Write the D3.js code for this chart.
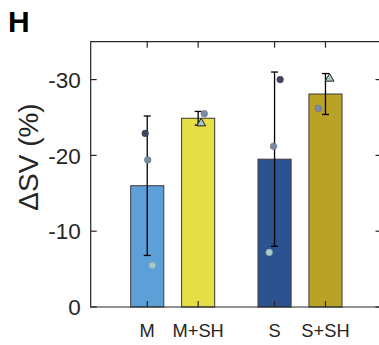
<!DOCTYPE html>
<html>
<head>
<meta charset="utf-8">
<script src="https://cdn.jsdelivr.net/npm/d3@7"></script>
<style>
  html, body { margin: 0; padding: 0; background: #fff; }
  svg { display: block; }
  text { font-family: "Liberation Sans", Arial, Helvetica, sans-serif; fill: #262626; }
</style>
</head>
<body>
<svg id="chart" width="379" height="345"></svg>
<script>
// ---- data ----
const categories = ["M", "M+SH", "S", "S+SH"];
const catPositions = [1, 2, 3.5, 4.5];
const meanValues = [-16.0, -24.9, -19.5, -28.1];
const sdValues = [9.2, 0.9, 11.5, 2.7];
const barColors = ["#5d9fd7", "#e6de45", "#2d5291", "#b9a225"];
const yTickValues = [0, -10, -20, -30];
const yTickLabels = ["0", "-10", "-20", "-30"];

// individual subject points
const pointCategory = ["M", "M", "M", "M+SH", "M+SH", "S", "S", "S", "S+SH", "S+SH"];
const pointJitter = [-0.04, 0.01, 0.10, 0.12, 0.06, 0.11, -0.02, -0.105, 0.08, -0.14];
const pointValues = [-22.9, -19.4, -5.5, -25.5, -24.3, -30.0, -21.2, -7.2, -30.2, -26.2];
const pointShape = ["circle", "circle", "circle", "circle", "triangle", "circle", "circle", "circle", "triangle", "circle"];
const pointGroup = ["dark", "mid", "light", "mid", "light", "dark", "mid", "light", "light", "mid"];
const groupColors = { dark: "#41465f", mid: "#7c8ba3", light: "#a9c9cb" };

// ---- layout ----
const svg = d3.select("#chart");
const mLeft = 90.7, mRight = 381.5, mTop = 41.7, mBottom = 307;

const x = d3.scaleLinear().domain([-0.11, 5.6]).range([mLeft, mRight]);
const y = d3.scaleLinear().domain([0, -35]).range([mBottom, mTop]);
const posOf = c => catPositions[categories.indexOf(c)];
const barW = 0.65;
const axisColor = "#262626";

// bars
svg.append("g").selectAll("rect")
  .data(categories)
  .join("rect")
  .attr("x", (d, i) => x(catPositions[i] - barW / 2))
  .attr("width", (d, i) => x(catPositions[i] + barW / 2) - x(catPositions[i] - barW / 2))
  .attr("y", (d, i) => y(meanValues[i]))
  .attr("height", (d, i) => y(0) - y(meanValues[i]))
  .attr("fill", (d, i) => barColors[i])
  .attr("stroke", "#3a3a3a")
  .attr("stroke-width", 1);

// error bars
const eb = svg.append("g").attr("stroke", "#000").attr("stroke-width", 1.3);
categories.forEach((c, i) => {
  const cx = x(catPositions[i]);
  const lo = y(meanValues[i] + sdValues[i]);
  const hi = y(meanValues[i] - sdValues[i]);
  eb.append("line").attr("x1", cx).attr("x2", cx).attr("y1", lo).attr("y2", hi);
  eb.append("line").attr("x1", cx - 3.5).attr("x2", cx + 3.5).attr("y1", lo).attr("y2", lo);
  eb.append("line").attr("x1", cx - 3.5).attr("x2", cx + 3.5).attr("y1", hi).attr("y2", hi);
});

// points
const pts = svg.append("g");
pointValues.forEach((v, i) => {
  const px = x(posOf(pointCategory[i]) + pointJitter[i]);
  const py = y(v);
  if (pointShape[i] === "circle") {
    pts.append("circle").attr("cx", px).attr("cy", py).attr("r", 3.3)
      .attr("fill", groupColors[pointGroup[i]])
      .attr("stroke", d3.color(groupColors[pointGroup[i]]).darker(0.6)).attr("stroke-width", 0.6);
  } else {
    const sym = d3.symbol().type(d3.symbolTriangle).size(34);
    pts.append("path").attr("d", sym()).attr("transform", `translate(${px},${py + 0.5})`)
      .attr("fill", groupColors[pointGroup[i]])
      .attr("stroke", "#222").attr("stroke-width", 1);
  }
});

// axes box
const ax = svg.append("g").attr("stroke", axisColor).attr("stroke-width", 1.2).attr("fill", "none");
ax.append("path").attr("d", `M${mLeft},${mTop} H${mRight} V${mBottom} H${mLeft} Z`);

// y ticks (inward left + right)
yTickValues.forEach(v => {
  ax.append("line").attr("x1", mLeft).attr("x2", mLeft + 6).attr("y1", y(v)).attr("y2", y(v));
  ax.append("line").attr("x1", mRight).attr("x2", mRight - 6).attr("y1", y(v)).attr("y2", y(v));
});
// x ticks (inward bottom + top)
catPositions.forEach(p => {
  ax.append("line").attr("x1", x(p)).attr("x2", x(p)).attr("y1", mBottom).attr("y2", mBottom - 6);
  ax.append("line").attr("x1", x(p)).attr("x2", x(p)).attr("y1", mTop).attr("y2", mTop + 6);
});

// y tick labels
svg.append("g").selectAll("text")
  .data(yTickValues)
  .join("text")
  .attr("x", mLeft - 10)
  .attr("y", d => y(d))
  .attr("dy", "0.36em")
  .attr("text-anchor", "end")
  .attr("font-size", 22.5)
  .text((d, i) => yTickLabels[i]);

// x tick labels
svg.append("g").selectAll("text")
  .data(categories)
  .join("text")
  .attr("x", (d, i) => x(catPositions[i]))
  .attr("y", 337)
  .attr("text-anchor", "middle")
  .attr("font-size", 18.3)
  .text(d => d);

// y axis label
svg.append("text")
  .attr("transform", `translate(37.5,157) rotate(-90)`)
  .attr("text-anchor", "middle")
  .attr("font-size", 28)
  .text("ΔSV (%)");

// panel letter
svg.append("text")
  .attr("x", 8)
  .attr("y", 32)
  .attr("font-size", 30)
  .attr("font-weight", "bold")
  .style("fill", "#000")
  .text("H");
</script>
</body>
</html>
